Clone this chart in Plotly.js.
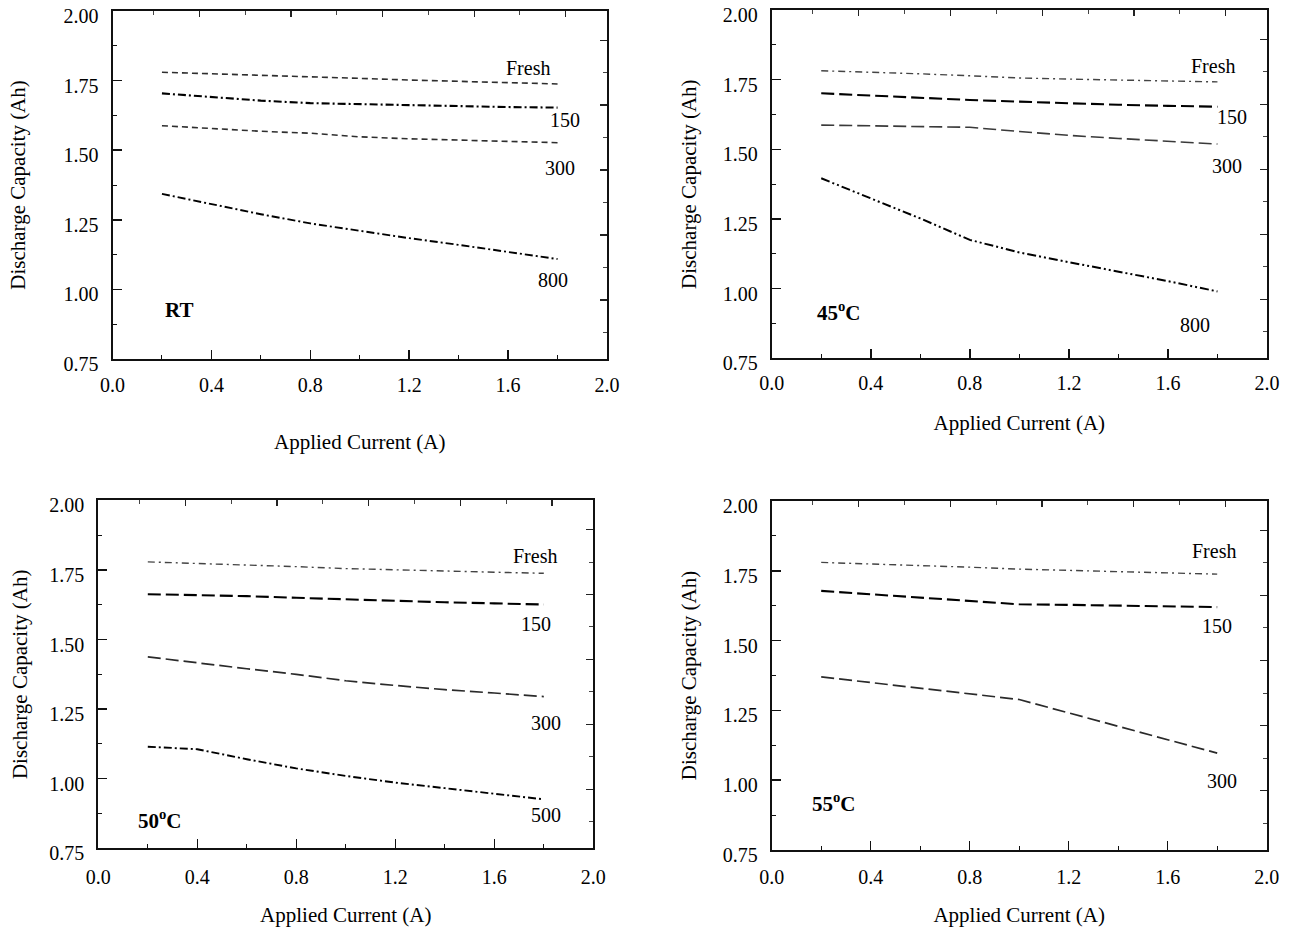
<!DOCTYPE html>
<html>
<head>
<meta charset="utf-8">
<script src="https://cdn.plot.ly/plotly-3.0.1.min.js"></script>
<style>
  html, body { margin: 0; padding: 0; background: #fff; }
  #chart { width: 1293px; height: 930px; }
</style>
</head>
<body>
<div id="chart"></div>
<script>
// ---------------- data ----------------
const currentA = [0.2, 0.4, 0.6, 0.8, 1.0, 1.2, 1.4, 1.6, 1.8];

// Room temperature
const rtFresh = [1.780, 1.775, 1.770, 1.765, 1.758, 1.752, 1.747, 1.742, 1.738];
const rt150   = [1.704, 1.690, 1.678, 1.669, 1.665, 1.661, 1.658, 1.655, 1.653];
const rt300   = [1.588, 1.578, 1.568, 1.561, 1.548, 1.541, 1.536, 1.531, 1.527];
const rt800   = [1.343, 1.307, 1.270, 1.237, 1.210, 1.184, 1.160, 1.135, 1.109];

// 45 C
const t45Fresh = [1.782, 1.777, 1.771, 1.764, 1.756, 1.752, 1.748, 1.745, 1.742];
const t45_150  = [1.701, 1.693, 1.684, 1.677, 1.671, 1.665, 1.660, 1.656, 1.653];
const t45_300  = [1.587, 1.584, 1.581, 1.579, 1.564, 1.550, 1.539, 1.529, 1.519];
const t45_800  = [1.396, 1.325, 1.252, 1.175, 1.130, 1.095, 1.062, 1.027, 0.990];

// 50 C
const t50Fresh = [1.779, 1.774, 1.768, 1.762, 1.755, 1.750, 1.746, 1.742, 1.738];
const t50_150  = [1.663, 1.660, 1.656, 1.650, 1.644, 1.639, 1.634, 1.630, 1.626];
const t50_300  = [1.438, 1.416, 1.395, 1.375, 1.352, 1.335, 1.320, 1.308, 1.295];
const t50_500  = [1.115, 1.106, 1.070, 1.037, 1.010, 0.986, 0.966, 0.946, 0.926];

// 55 C
const t55Fresh = [1.780, 1.775, 1.769, 1.763, 1.756, 1.751, 1.746, 1.742, 1.738];
const t55_150  = [1.678, 1.666, 1.654, 1.642, 1.630, 1.628, 1.625, 1.622, 1.620];
const t55_300  = [1.370, 1.350, 1.330, 1.310, 1.289, 1.241, 1.193, 1.145, 1.097];

const panelLabels = ['RT', '45<sup>o</sup>C', '50<sup>o</sup>C', '55<sup>o</sup>C'];
const xTitle = 'Applied Current (A)';
const yTitle = 'Discharge Capacity (Ah)';

// ---------------- styles ----------------
const FONT = 'Liberation Serif, Times New Roman, serif';
const DASH_SHORT = '6px,4px';
const DASH_DOT = '8px,3px,2px,3px';
const DASH_DOT_THIN = '7px,4px,2px,4px';
const DASH_LONG = '13px,5px';
const DASH_DOT_DOT = '9px,3px,2px,3px,2px,3px';

function line(xa, ya, y, color, width, dash, name) {
  return {
    type: 'scatter', mode: 'lines', x: currentA, y: y, name: name,
    xaxis: xa, yaxis: ya, showlegend: false, hoverinfo: 'skip',
    line: { color: color, width: width, dash: dash }
  };
}

const traces = [
  line('x', 'y', rtFresh, '#2e2e2e', 1.6, DASH_SHORT, 'Fresh'),
  line('x', 'y', rt150, '#000', 2.1, DASH_DOT, '150'),
  line('x', 'y', rt300, '#2e2e2e', 1.6, DASH_SHORT, '300'),
  line('x', 'y', rt800, '#000', 1.9, DASH_DOT, '800'),

  line('x2', 'y2', t45Fresh, '#444', 1.4, DASH_DOT_THIN, 'Fresh'),
  line('x2', 'y2', t45_150, '#000', 2.1, DASH_LONG, '150'),
  line('x2', 'y2', t45_300, '#3a3a3a', 1.6, DASH_LONG, '300'),
  line('x2', 'y2', t45_800, '#000', 2.0, DASH_DOT_DOT, '800'),

  line('x3', 'y3', t50Fresh, '#444', 1.4, DASH_DOT_THIN, 'Fresh'),
  line('x3', 'y3', t50_150, '#000', 2.1, DASH_LONG, '150'),
  line('x3', 'y3', t50_300, '#2a2a2a', 1.7, DASH_LONG, '300'),
  line('x3', 'y3', t50_500, '#000', 1.9, DASH_DOT, '500'),

  line('x4', 'y4', t55Fresh, '#444', 1.4, DASH_DOT_THIN, 'Fresh'),
  line('x4', 'y4', t55_150, '#000', 2.1, DASH_LONG, '150'),
  line('x4', 'y4', t55_300, '#2a2a2a', 1.7, DASH_LONG, '300')
];

// ---------------- axes ----------------
const W = 1293, H = 930;
// plot frames in pixels: [left, right, top, bottom]
const frames = [
  [112.5, 607, 11, 359],
  [771.7, 1267, 10, 358.3],
  [98.3, 593.3, 500.4, 848.3],
  [771.7, 1266.7, 501, 850]
];
const xStandoff = [39, 22, 20, 20];
const yStandoff = [32, 20, 16, 20];
const xLabelStandoff = [7, 6, 10, 8];

const tickFont = { family: FONT, size: 20, color: '#000' };
const titleFont = { family: FONT, size: 21, color: '#000' };

const layout = {
  width: W, height: H,
  margin: { l: 0, r: 0, t: 0, b: 0 },
  paper_bgcolor: '#fff', plot_bgcolor: '#fff',
  showlegend: false,
  font: { family: FONT, color: '#000' },
  annotations: []
};

frames.forEach((f, i) => {
  const n = i + 1;
  const sx = n === 1 ? '' : String(n);
  const xd = [f[0] / W, f[1] / W];
  const yd = [(H - f[3]) / H, (H - f[2]) / H];
  layout['xaxis' + sx] = {
    domain: xd, anchor: 'y' + sx, range: [0, 2],
    tick0: 0, dtick: 0.4, tickformat: '.1f',
    ticks: 'inside', ticklen: 9, tickwidth: 1.5, tickcolor: '#111',
    minor: { tick0: 0, dtick: 0.2, ticks: 'inside', ticklen: 4, tickwidth: 1, tickcolor: '#111', showgrid: false },
    showline: true, linewidth: 2, linecolor: '#111', mirror: true,
    showgrid: false, zeroline: false, fixedrange: true,
    tickfont: tickFont, ticklabelstandoff: xLabelStandoff[i], ticklabeloverflow: 'allow',
    title: { text: xTitle, font: titleFont, standoff: xStandoff[i] }
  };
  layout['yaxis' + sx] = {
    domain: yd, anchor: 'x' + sx, range: [0.75, 2.0],
    tick0: 0.75, dtick: 0.25, tickformat: '.2f',
    ticks: 'inside', ticklen: 9, tickwidth: 1.5, tickcolor: '#111',
    minor: { tick0: 0.75, dtick: 0.125, ticks: 'inside', ticklen: 4, tickwidth: 1, tickcolor: '#111', showgrid: false },
    showline: true, linewidth: 2, linecolor: '#111', mirror: true,
    showgrid: false, zeroline: false, fixedrange: true,
    tickfont: tickFont, ticklabelstandoff: 8, ticklabelshift: 5, ticklabeloverflow: 'allow',
    title: { text: yTitle, font: titleFont, standoff: yStandoff[i] }
  };
  // secondary tick scales on the top and right frame edges
  const ox = 'xaxis' + (n + 4), oy = 'yaxis' + (n + 4);
  layout[ox] = {
    overlaying: 'x' + sx, anchor: 'y' + (n + 4), side: 'top', range: [-0.895, 9.9],
    tick0: 1, dtick: 2, ticks: 'inside', ticklen: 6, tickwidth: 1.3, tickcolor: '#222',
    minor: { tick0: 0, dtick: 1, ticks: 'inside', ticklen: 4, tickwidth: 1, tickcolor: '#444', showgrid: false },
    showticklabels: false, showline: false, showgrid: false, zeroline: false, fixedrange: true
  };
  layout[oy] = {
    overlaying: 'y' + sx, anchor: 'x' + (n + 4), side: 'right', range: [-0.82, 9.9],
    tick0: 1, dtick: 2, ticks: 'inside', ticklen: 7, tickwidth: 1.3, tickcolor: '#222',
    minor: { tick0: 0, dtick: 1, ticks: 'inside', ticklen: 4, tickwidth: 1, tickcolor: '#444', showgrid: false },
    showticklabels: false, showline: false, showgrid: false, zeroline: false, fixedrange: true
  };
  // empty trace so the overlay tick scales are instantiated
  traces.push({ type: 'scatter', mode: 'lines', x: [], y: [], xaxis: 'x' + (n + 4), yaxis: 'y' + (n + 4),
                showlegend: false, hoverinfo: 'skip' });
});

// ---------------- curve labels ----------------
function note(n, x, y, text, opts) {
  const sx = n === 1 ? '' : String(n);
  layout.annotations.push(Object.assign({
    xref: 'x' + sx, yref: 'y' + sx, x: x, y: y, text: text, showarrow: false,
    font: { family: FONT, size: 20, color: '#000' }, xanchor: 'center', yanchor: 'middle'
  }, opts || {}));
}
const boldFont = { family: FONT, size: 21, color: '#000' };

note(1, 1.68, 1.795, 'Fresh');
note(1, 1.83, 1.608, '150');
note(1, 1.81, 1.436, '300');
note(1, 1.78, 1.034, '800');
note(1, 0.27, 0.926, '<b>' + panelLabels[0] + '</b>', { font: boldFont });

note(2, 1.78, 1.799, 'Fresh');
note(2, 1.86, 1.616, '150');
note(2, 1.84, 1.44, '300');
note(2, 1.71, 0.87, '800');
note(2, 0.27, 0.917, '<b>' + panelLabels[1] + '</b>', { font: boldFont });

note(3, 1.765, 1.80, 'Fresh');
note(3, 1.77, 1.556, '150');
note(3, 1.81, 1.20, '300');
note(3, 1.81, 0.87, '500');
note(3, 0.25, 0.852, '<b>' + panelLabels[2] + '</b>', { font: boldFont });

note(4, 1.787, 1.82, 'Fresh');
note(4, 1.80, 1.551, '150');
note(4, 1.82, 0.998, '300');
note(4, 0.25, 0.919, '<b>' + panelLabels[3] + '</b>', { font: boldFont });

Plotly.newPlot('chart', traces, layout, { displayModeBar: false, staticPlot: true });
</script>
</body>
</html>
